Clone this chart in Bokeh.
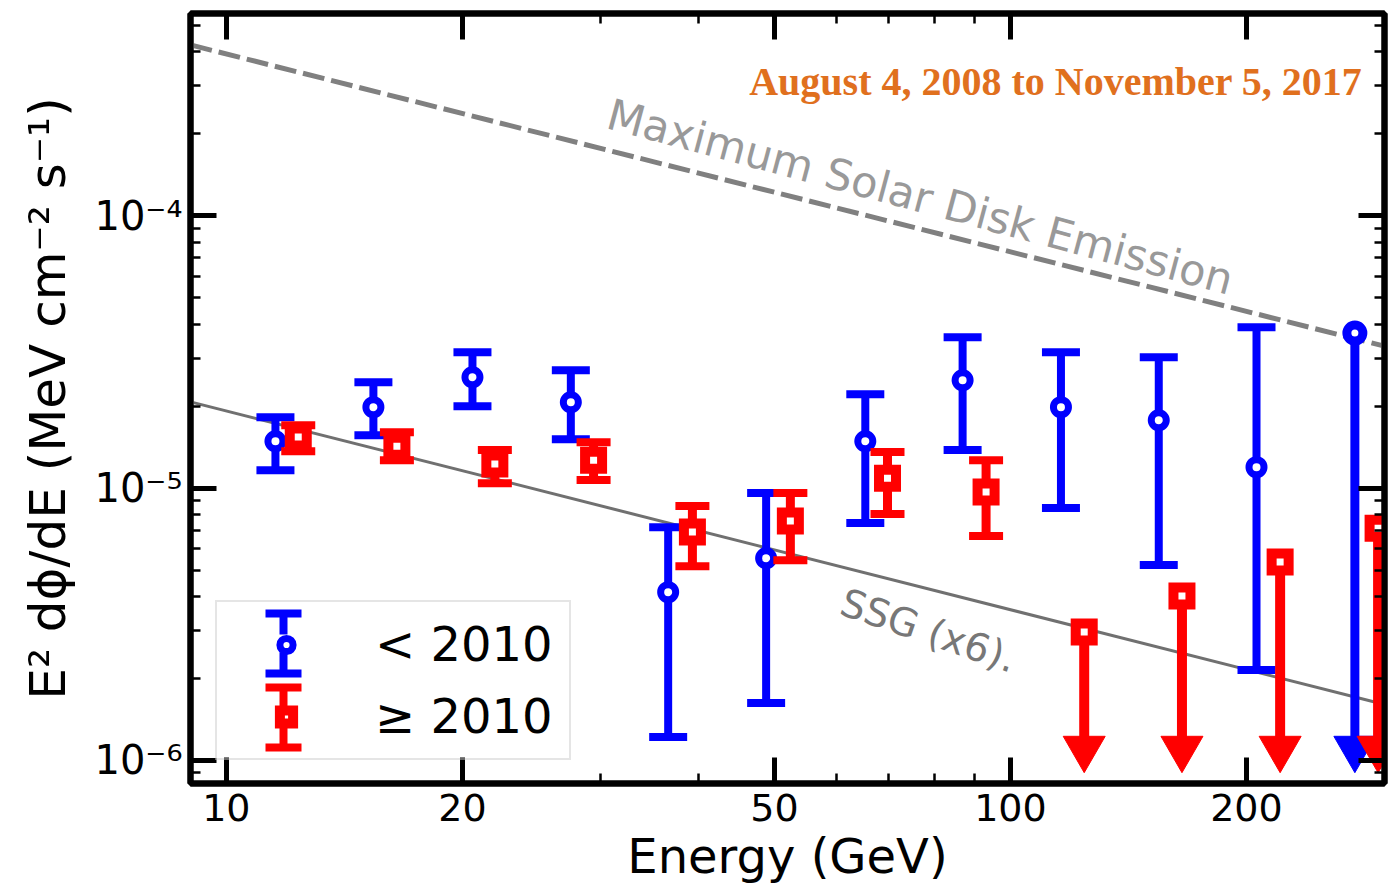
from bokeh.plotting import figure
from bokeh.models import (ColumnDataSource, FixedTicker, LogAxis, CustomJSTickFormatter,
                          Label, Legend, LegendItem, Whisker, TeeHead, Range1d)
from bokeh.embed import file_html
from bokeh.resources import INLINE

# ---------------- data ----------------
blue_energy = [11.55, 15.4, 20.6, 27.5, 36.6, 48.8, 65.3, 86.9, 116.0, 154.6, 206.0]
blue_flux = [1.487e-5, 1.983e-5, 2.555e-5, 2.068e-5, 4.15e-6, 5.53e-6, 1.487e-5, 2.49e-5, 1.983e-5, 1.776e-5, 1.194e-5]
blue_hi = [1.822e-5, 2.449e-5, 3.156e-5, 2.71e-5, 7.19e-6, 9.59e-6, 2.213e-5, 3.58e-5, 3.156e-5, 3.025e-5, 3.90e-5]
blue_lo = [1.164e-5, 1.565e-5, 2.0e-5, 1.513e-5, 1.22e-6, 1.626e-6, 7.44e-6, 1.379e-5, 8.45e-6, 5.22e-6, 2.15e-6]
blue_ul_energy = [275.0]
blue_ul_flux = [3.71e-5]

red_energy = [12.35, 16.5, 22.0, 29.4, 39.3, 52.4, 69.7, 93.1]
red_flux = [1.539e-5, 1.426e-5, 1.225e-5, 1.267e-5, 6.90e-6, 7.57e-6, 1.088e-5, 9.67e-6]
red_hi = [1.703e-5, 1.605e-5, 1.379e-5, 1.475e-5, 8.59e-6, 9.59e-6, 1.356e-5, 1.267e-5]
red_lo = [1.367e-5, 1.267e-5, 1.043e-5, 1.07e-5, 5.17e-6, 5.44e-6, 8.03e-6, 6.67e-6]
red_ul_energy = [124.2, 165.5, 220.8, 294.4]
red_ul_flux = [2.96e-6, 4.02e-6, 5.35e-6, 7.13e-6]

ul_arrow_level = 1.107e-6

ssg_energy = [9.0, 300.0]
ssg_flux = [2.074e-5, 1.605e-6]
max_energy = [9.0, 300.0]
max_flux = [4.24e-4, 3.32e-5]

x_major = [10, 20, 50, 100, 200]
x_minor = [30, 40, 60, 70, 80, 90, 300]
y_major = [1e-6, 1e-5, 1e-4]
y_minor = [9e-7] + [k * 1e-6 for k in range(2, 10)] + [k * 1e-5 for k in range(2, 10)] + [k * 1e-4 for k in range(2, 6)]

series_labels = ["< 2010", "\u2265 2010"]
title_text = "August 4, 2008 to November 5, 2017"

# ---------------- figure ----------------
p = figure(width=1389, height=886, x_axis_type="log", y_axis_type="log",
           x_range=Range1d(9.0, 300.0), y_range=Range1d(8.23e-7, 5.53e-4),
           output_backend="svg", toolbar_location=None,
           min_border_left=190, min_border_right=5, min_border_top=13, min_border_bottom=103)
p.grid.visible = False
p.outline_line_color = "black"
p.outline_line_width = 6
p.background_fill_color = "white"
p.border_fill_color = "white"

FONT = "DejaVu Sans"

def style_axis(ax, labels=True):
    ax.axis_line_color = "black"
    ax.axis_line_width = 6
    ax.major_tick_in = 26
    ax.major_tick_out = 0
    ax.minor_tick_in = 10
    ax.minor_tick_out = 0
    ax.major_tick_line_width = 5
    ax.minor_tick_line_width = 2.5
    ax.major_tick_line_color = "black"
    ax.minor_tick_line_color = "black"
    ax.major_label_text_font = FONT
    ax.major_label_text_font_size = "38px"
    ax.major_label_text_color = "black"
    ax.axis_label_text_font = FONT
    ax.axis_label_text_font_style = "normal"
    ax.axis_label_text_color = "black"
    if not labels:
        ax.formatter = CustomJSTickFormatter(code="return '';")
        ax.major_label_standoff = 0

xt = FixedTicker(ticks=x_major, minor_ticks=x_minor)
yt = FixedTicker(ticks=y_major, minor_ticks=y_minor)
sup_code = """
const sup = {"-": "\u207b", "0": "\u2070", "1": "\u00b9", "2": "\u00b2", "3": "\u00b3", "4": "\u2074",
             "5": "\u2075", "6": "\u2076", "7": "\u2077", "8": "\u2078", "9": "\u2079"};
const e = Math.round(Math.log10(tick));
return "10" + String(e).split("").map(c => sup[c]).join("");
"""

xa = p.xaxis[0]
xa.ticker = xt
xa.formatter = CustomJSTickFormatter(code="return String(Math.round(tick));")
style_axis(xa)
xa.axis_label = "Energy (GeV)"
xa.axis_label_text_font_size = "48px"
xa.major_label_standoff = 10
xa.axis_label_standoff = 4

ya = p.yaxis[0]
ya.ticker = yt
ya.formatter = CustomJSTickFormatter(code=sup_code)
style_axis(ya)
ya.major_label_text_font_size = "40px"
ya.axis_label = "E\u00b2 d\u03d5/dE (MeV cm\u207b\u00b2 s\u207b\u00b9)"
ya.axis_label_text_font_size = "50px"
ya.major_label_standoff = 8
ya.axis_label_standoff = 14

top = LogAxis(ticker=FixedTicker(ticks=x_major, minor_ticks=x_minor))
style_axis(top, labels=False)
p.add_layout(top, "above")
right = LogAxis(ticker=FixedTicker(ticks=y_major, minor_ticks=y_minor))
style_axis(right, labels=False)
p.add_layout(right, "right")

# ---------------- reference lines ----------------
p.line(max_energy, max_flux, line_color="#808080", line_width=5, line_dash="22 7")
p.line(ssg_energy, ssg_flux, line_color="#707070", line_width=3)

# ---------------- blue (< 2010) ----------------
bsrc = ColumnDataSource(dict(e=blue_energy, f=blue_flux, hi=blue_hi, lo=blue_lo))
p.segment(x0="e", y0="lo", x1="e", y1="hi", source=bsrc, line_color="blue", line_width=8)
p.scatter(x="e", y="hi", source=bsrc, marker="dash", size=38, line_color="blue", line_width=8)
p.scatter(x="e", y="lo", source=bsrc, marker="dash", size=38, line_color="blue", line_width=8)
bul = ColumnDataSource(dict(e=blue_ul_energy, f=blue_ul_flux, a=[ul_arrow_level] * len(blue_ul_energy)))
p.segment(x0="e", y0="f", x1="e", y1="a", source=bul, line_color="blue", line_width=9)
p.scatter(x="e", y="a", source=bul, marker="inverted_triangle", size=42, color="blue")
blue_marker = p.scatter(x="e", y="f", source=bsrc, marker="circle", size=15,
                        fill_color="white", line_color="blue", line_width=7)
p.scatter(x="e", y="f", source=bul, marker="circle", size=16, fill_color="white", line_color="blue", line_width=9)

# ---------------- red (>= 2010) ----------------
rsrc = ColumnDataSource(dict(e=red_energy, f=red_flux, hi=red_hi, lo=red_lo))
p.segment(x0="e", y0="lo", x1="e", y1="hi", source=rsrc, line_color="red", line_width=9)
p.scatter(x="e", y="hi", source=rsrc, marker="dash", size=34, line_color="red", line_width=8)
p.scatter(x="e", y="lo", source=rsrc, marker="dash", size=34, line_color="red", line_width=8)
rul = ColumnDataSource(dict(e=red_ul_energy, f=red_ul_flux, a=[ul_arrow_level] * len(red_ul_energy)))
p.segment(x0="e", y0="f", x1="e", y1="a", source=rul, line_color="red", line_width=10)
p.scatter(x="e", y="a", source=rul, marker="inverted_triangle", size=42, color="red")
red_marker = p.scatter(x="e", y="f", source=rsrc, marker="square", size=17,
                       fill_color="white", line_color="red", line_width=10, line_join="miter")
p.scatter(x="e", y="f", source=rul, marker="square", size=17, fill_color="white",
          line_color="red", line_width=10, line_join="miter")

# ---------------- annotations ----------------
p.add_layout(Label(x=30.7, y=2.38e-4, text="Maximum Solar Disk Emission", angle=-0.262,
                   text_font=FONT, text_font_size="43px", text_color="#999999",
                   text_align="left", text_baseline="alphabetic"))
p.add_layout(Label(x=61.0, y=3.85e-6, text="SSG (x6).", angle=-0.33,
                   text_font=FONT, text_font_size="39px", text_color="#777777",
                   text_align="left", text_baseline="alphabetic"))
p.add_layout(Label(x=1172, y=702, x_units="screen", y_units="screen", text=title_text,
                   text_font="Liberation Serif", text_font_style="bold", text_font_size="40px",
                   text_color="#E0701E", text_align="right", text_baseline="alphabetic"))

# ---------------- legend ----------------
legend = Legend(items=[LegendItem(label=series_labels[0], renderers=[blue_marker]),
                       LegendItem(label=series_labels[1], renderers=[red_marker])],
                location=(25, 23), padding=14, spacing=16, glyph_width=110, glyph_height=33,
                label_standoff=34, label_text_font=FONT, label_text_font_size="48px",
                label_text_color="black", border_line_color="#cccccc", border_line_width=2,
                background_fill_alpha=0.0, label_width=180)
p.add_layout(legend, "center")

# legend error-bar icons (screen units relative to the frame)
icon_x = 93
for cy, col in [(140, "blue"), (66, "red")]:
    up = Whisker(base=icon_x, lower=cy + 9, upper=cy + 30, dimension="height",
                 base_units="screen", lower_units="screen", upper_units="screen",
                 line_color=col, line_width=8, line_alpha=1.0, level="overlay",
                 upper_head=TeeHead(size=36, line_color=col, line_width=8, line_alpha=1.0), lower_head=None)
    dn = Whisker(base=icon_x, lower=cy - 30, upper=cy - 9, dimension="height",
                 base_units="screen", lower_units="screen", upper_units="screen",
                 line_color=col, line_width=8, line_alpha=1.0, level="overlay",
                 lower_head=TeeHead(size=36, line_color=col, line_width=8, line_alpha=1.0), upper_head=None)
    p.add_layout(up)
    p.add_layout(dn)

open("out.html", "w").write(file_html(p, INLINE))
